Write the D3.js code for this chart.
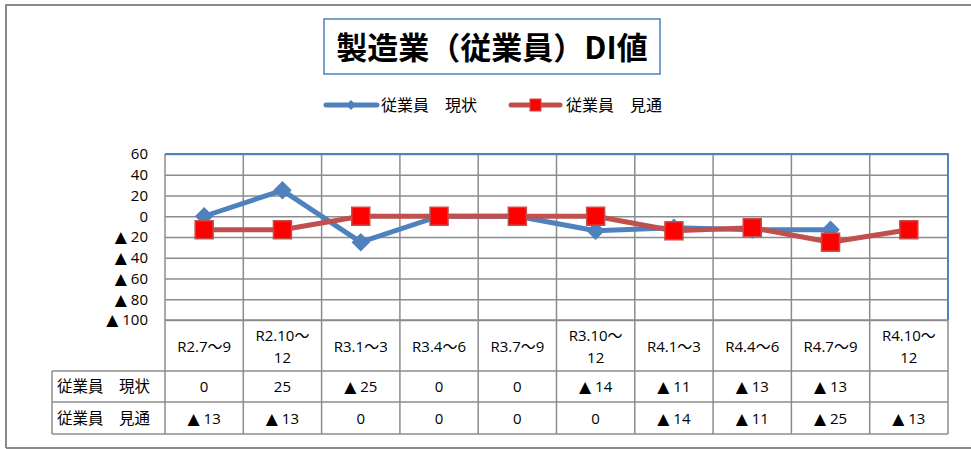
<!DOCTYPE html>
<html>
<head>
<meta charset="utf-8">
<title>製造業（従業員）DI値</title>
<script src="https://cdn.jsdelivr.net/npm/d3@7"></script>
<style>
  body { margin: 0; background: #fff; }
  text { font-family: "Open Sans", "Noto Sans CJK JP", sans-serif; }
  .tri { font-family: "DejaVu Sans", sans-serif; font-size: 1.05em; }
</style>
</head>
<body>
<script>
// データ
var categories = ["R2.7～9", "R2.10～\n12", "R3.1～3", "R3.4～6", "R3.7～9", "R3.10～\n12", "R4.1～3", "R4.4～6", "R4.7～9", "R4.10～\n12"];
var genjo = [0, 25, -25, 0, 0, -14, -11, -13, -13, null];
var mitoshi = [-13, -13, 0, 0, 0, 0, -14, -11, -25, -13];
var yTicks = [60, 40, 20, 0, -20, -40, -60, -80, -100];
var seriesNames = ["従業員　現状", "従業員　見通"];

var W = 971, H = 449;
var plot = {left: 165, right: 948, top: 154, bottom: 320};
var blue = "#4F81BD", red = "#C0504D", grid = "#8c8c8c";

var svg = d3.select("body").append("svg")
    .attr("width", W).attr("height", H);

// 外枠
svg.append("path")
    .attr("d", "M6,448 L6,5 L975,5 M6,448 L975,448")
    .attr("fill", "none").attr("stroke", "#8a8a8a").attr("stroke-width", 2);

// タイトル
svg.append("rect").attr("x", 324).attr("y", 19).attr("width", 336).attr("height", 55)
    .attr("fill", "#fff").attr("stroke", blue).attr("stroke-width", 1.5);
svg.append("text").attr("x", 492).attr("y", 59).attr("text-anchor", "middle")
    .style("font-family", "'Noto Sans CJK JP'")
    .style("font-size", "31px").style("font-weight", "bold").text("製造業（従業員）DI値");

var x = d3.scaleBand().domain(d3.range(categories.length)).range([plot.left, plot.right]);
var y = d3.scaleLinear().domain([-100, 60]).range([plot.bottom, plot.top]);

// 負の値は▲表記
function fill(sel, v) {
    sel.text(null);
    if (v == null) return;
    if (v < 0) {
        sel.append("tspan").attr("class", "tri").text("▲");
        sel.append("tspan").text(" " + (-v));
    } else {
        sel.append("tspan").text(v);
    }
}

// 横グリッド + Y軸ラベル
var yAxis = svg.append("g").attr("transform", "translate(" + plot.left + ",0)")
    .call(d3.axisLeft(y).tickValues(yTicks).tickFormat(function() { return ""; })
        .tickSize(-(plot.right - plot.left)).tickPadding(17));
yAxis.select(".domain").remove();
yAxis.selectAll("line").attr("stroke", grid).attr("stroke-width", 1.5);
yAxis.selectAll("text").style("font-size", "15px").attr("fill", "#000")
    .each(function(d) { fill(d3.select(this), d); });

// 縦グリッド（プロット＋表）
var bounds = d3.range(categories.length + 1).map(function(i) {
    return i < categories.length ? x(i) : plot.right;
});
svg.selectAll(".vgrid").data(bounds).enter().append("line")
    .attr("x1", function(d) { return d; }).attr("x2", function(d) { return d; })
    .attr("y1", plot.top).attr("y2", 434)
    .attr("stroke", grid).attr("stroke-width", 1.5);

// プロット上・右の枠
svg.append("path")
    .attr("d", "M" + plot.left + "," + plot.top + " L" + plot.right + "," + plot.top + " L" + plot.right + "," + plot.bottom)
    .attr("fill", "none").attr("stroke", blue).attr("stroke-width", 2);

// 折れ線
var line = d3.line()
    .defined(function(d) { return d != null; })
    .x(function(d, i) { return x(i) + x.bandwidth() / 2; })
    .y(function(d) { return y(d); });

svg.append("path").datum(genjo).attr("d", line)
    .attr("fill", "none").attr("stroke", blue).attr("stroke-width", 5).attr("stroke-linejoin", "round");
svg.selectAll(".dia").data(genjo.map(function(v, i) { return [v, i]; }).filter(function(d) { return d[0] != null; }))
    .enter().append("path")
    .attr("d", d3.symbol().type(d3.symbolSquare).size(170))
    .attr("transform", function(d) { return "translate(" + (x(d[1]) + x.bandwidth() / 2) + "," + y(d[0]) + ") rotate(45)"; })
    .attr("fill", blue);

svg.append("path").datum(mitoshi).attr("d", line)
    .attr("fill", "none").attr("stroke", red).attr("stroke-width", 5).attr("stroke-linejoin", "round");
svg.selectAll(".sq").data(mitoshi).enter().append("rect")
    .attr("x", function(d, i) { return x(i) + x.bandwidth() / 2 - 9; })
    .attr("y", function(d) { return y(d) - 9; })
    .attr("width", 18).attr("height", 18)
    .attr("fill", "#FF0000").attr("stroke", red).attr("stroke-width", 1.5);

// 凡例
var leg = svg.append("g").style("font-family", "'Noto Sans CJK JP'");
leg.append("line").attr("x1", 326).attr("x2", 377).attr("y1", 105).attr("y2", 105)
    .attr("stroke", blue).attr("stroke-width", 5).attr("stroke-linecap", "round");
leg.append("path").attr("d", d3.symbol().type(d3.symbolSquare).size(50))
    .attr("transform", "translate(351,105) rotate(45)").attr("fill", blue);
leg.append("text").attr("x", 381).attr("y", 111).style("font-size", "16px").text(seriesNames[0]);
leg.append("line").attr("x1", 511).attr("x2", 560).attr("y1", 105).attr("y2", 105)
    .attr("stroke", red).attr("stroke-width", 5).attr("stroke-linecap", "round");
leg.append("rect").attr("x", 530).attr("y", 99).attr("width", 11).attr("height", 12)
    .attr("fill", "#FF0000").attr("stroke", red);
leg.append("text").attr("x", 566).attr("y", 111).style("font-size", "16px").text(seriesNames[1]);

// データ表
var rowTop = [320, 371, 402, 434];
svg.selectAll(".hrow").data(rowTop).enter().append("line")
    .attr("x1", function(d, i) { return i === 0 ? plot.left : 52; })
    .attr("x2", plot.right)
    .attr("y1", function(d) { return d; }).attr("y2", function(d) { return d; })
    .attr("stroke", grid).attr("stroke-width", 1.5);
svg.append("line").attr("x1", 52).attr("x2", 52).attr("y1", 371).attr("y2", 434)
    .attr("stroke", grid).attr("stroke-width", 1.5);

var cx = function(i) { return x(i) + x.bandwidth() / 2; };
categories.forEach(function(c, i) {
    var parts = c.split("\n");
    var t = svg.append("text").attr("text-anchor", "middle").style("font-size", "15px");
    if (parts.length === 1) {
        t.append("tspan").attr("x", cx(i)).attr("y", 352).text(parts[0]);
    } else {
        t.append("tspan").attr("x", cx(i)).attr("y", 341).text(parts[0]);
        t.append("tspan").attr("x", cx(i)).attr("y", 363).text(parts[1]);
    }
});

[genjo, mitoshi].forEach(function(s, r) {
    var yy = r === 0 ? 392 : 424;
    svg.append("text").attr("x", 57).attr("y", yy).style("font-size", "15.5px")
        .style("font-family", "'Noto Sans CJK JP'").text(seriesNames[r]);
    svg.selectAll(".cell" + r).data(s).enter().append("text")
        .attr("x", function(d, i) { return cx(i); }).attr("y", yy)
        .attr("text-anchor", "middle").style("font-size", "15px")
        .each(function(d) { fill(d3.select(this), d); });
});
</script>
</body>
</html>
